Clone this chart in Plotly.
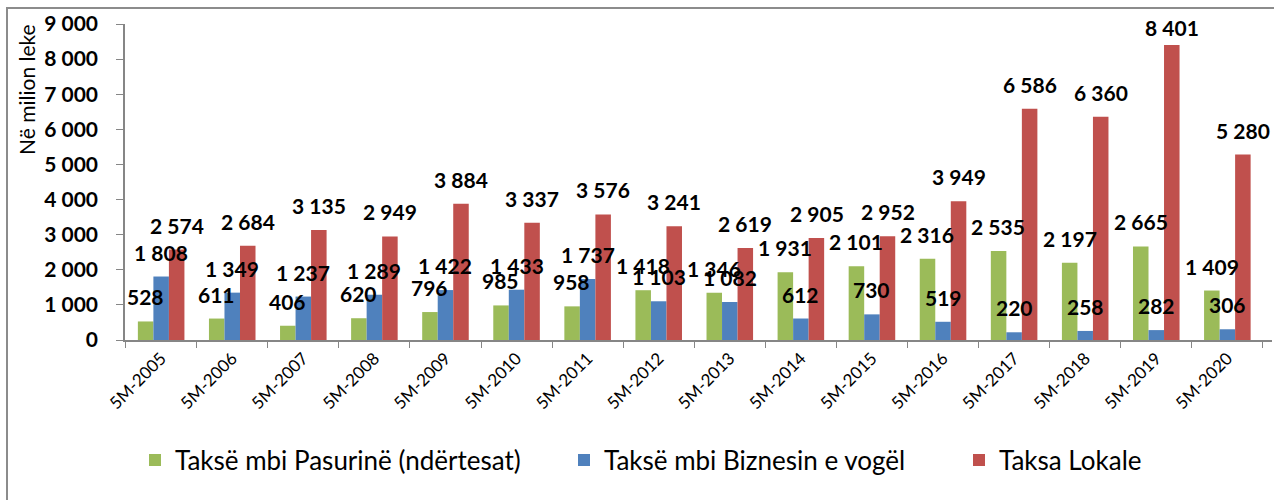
import plotly.graph_objects as go

categories = ["5M-2005", "5M-2006", "5M-2007", "5M-2008", "5M-2009", "5M-2010", "5M-2011", "5M-2012",
              "5M-2013", "5M-2014", "5M-2015", "5M-2016", "5M-2017", "5M-2018", "5M-2019", "5M-2020"]
pasuri = [528, 611, 406, 620, 796, 985, 958, 1418, 1346, 1931, 2101, 2316, 2535, 2197, 2665, 1409]
biznes = [1808, 1349, 1237, 1289, 1422, 1433, 1737, 1103, 1082, 612, 730, 519, 220, 258, 282, 306]
lokale = [2574, 2684, 3135, 2949, 3884, 3337, 3576, 3241, 2619, 2905, 2952, 3949, 6586, 6360, 8401, 5280]
series_names = ["Taksë mbi Pasurinë (ndërtesat)", "Taksë mbi Biznesin e vogël", "Taksa Lokale"]
colors = ["#9BBB59", "#4F81BD", "#C0504D"]
y_ticks = [0, 1000, 2000, 3000, 4000, 5000, 6000, 7000, 8000, 9000]
y_ticktext = ["0", "1 000", "2 000", "3 000", "4 000", "5 000", "6 000", "7 000", "8 000", "9 000"]

W, H = 1274, 500
ML, MR, MT, MB = 125, 2, 24, 160
PW, PH = W - ML - MR, H - MT - MB
YMAX = 9000
BARGAP = 0.345
legend_square_px = [153, 582, 977]


def fmt(v):
    return f"{v:,}".replace(",", " ")


fig = go.Figure()
legend_ids = ["legend", "legend2", "legend3"]
for name, vals, col, lid in zip(series_names, [pasuri, biznes, lokale], colors, legend_ids):
    fig.add_trace(go.Bar(x=categories, y=vals, name=name, marker_color=col,
                         marker_line_width=0, legend=lid))

cat_w = PW / len(categories)
bar_w = cat_w * (1 - BARGAP) / 3
annotations = []
for si, vals in enumerate([pasuri, biznes, lokale]):
    xs = (si - 1) * bar_w
    for c, v in zip(categories, vals):
        top_px = MT + (YMAX - v) * PH / YMAX
        center = max(top_px - 24.5, 28)
        annotations.append(dict(x=c, y=v, xref="x", yref="y", text=fmt(v), showarrow=False,
                                xshift=xs, yshift=top_px - center, xanchor="center", yanchor="middle",
                                font=dict(family="Lato", size=21, color="black", weight="bold")))

annotations.append(dict(x=(26 - ML) / PW, y=(MT + PH - 90) / PH, xref="paper", yref="paper",
                        text="Në milion leke", textangle=-90, showarrow=False,
                        xanchor="center", yanchor="middle",
                        font=dict(family="Lato", size=21, color="black")))

legend_cfg = {}
for lid, sq in zip(legend_ids, legend_square_px):
    legend_cfg[lid] = dict(orientation="h", x=(sq - 18 - ML) / PW, xanchor="left",
                           y=(MT + PH - 460) / PH, yanchor="middle", bgcolor="rgba(0,0,0,0)",
                           font=dict(family="Lato", size=26, color="black"), itemwidth=30)

fig.update_layout(
    width=W, height=H,
    margin=dict(l=ML, r=MR, t=MT, b=MB, autoexpand=False),
    paper_bgcolor="white", plot_bgcolor="white",
    barmode="group", bargap=BARGAP, bargroupgap=0,
    showlegend=True,
    annotations=annotations,
    shapes=[dict(type="rect", xref="paper", yref="paper",
                 x0=(7 - ML) / PW, x1=1.05, y0=-0.6, y1=1 + (MT - 8) / PH,
                 line=dict(color="#8c8c8c", width=2), fillcolor="rgba(0,0,0,0)", layer="below")],
    **legend_cfg,
)
fig.update_xaxes(showline=True, linecolor="#868686", linewidth=1.5, ticks="outside", tickson="boundaries",
                 ticklen=6, tickcolor="#868686", tickangle=-45, showgrid=False, automargin=False,
                 tickfont=dict(family="Lato", size=17, color="black"))
fig.update_yaxes(range=[0, YMAX], tickvals=y_ticks, ticktext=y_ticktext, showline=True, linecolor="#868686",
                 linewidth=1.5, ticks="outside", ticklen=7, tickcolor="#868686", showgrid=False, zeroline=False,
                 ticklabelstandoff=14, automargin=False,
                 tickfont=dict(family="Lato", size=21, color="black", weight="bold"))

fig.write_html("out.html", config={"displayModeBar": False},
               post_script="document.body.style.margin='0';document.body.style.overflow='hidden';")
